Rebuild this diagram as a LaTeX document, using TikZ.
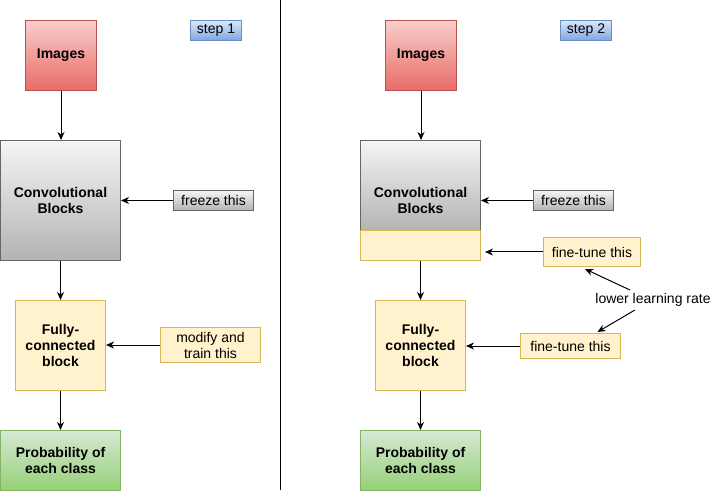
\documentclass[tikz,border=0pt]{standalone}
\usepackage{fontspec}
\setmainfont{Liberation Sans}
\usetikzlibrary{arrows.meta}
\definecolor{redtop}{HTML}{F8CECC}\definecolor{redbot}{HTML}{EA6B66}\definecolor{redline}{HTML}{B85450}
\definecolor{graytop}{HTML}{F5F5F5}\definecolor{graybot}{HTML}{B3B3B3}\definecolor{grayline}{HTML}{666666}
\definecolor{bluetop}{HTML}{DAE8FC}\definecolor{bluebot}{HTML}{7EA6E0}\definecolor{blueline}{HTML}{6C8EBF}
\definecolor{yelfill}{HTML}{FFF2CC}\definecolor{yelline}{HTML}{D6B656}
\definecolor{greentop}{HTML}{D5E8D4}\definecolor{greenbot}{HTML}{97D077}\definecolor{greenline}{HTML}{82B366}
\begin{document}
\begin{tikzpicture}[x=1pt,y=-1pt,line width=1pt,
	box/.style={draw,anchor=north west,inner sep=0pt,align=center,font=\fontsize{14}{16}\selectfont\bfseries},
	tag/.style={draw,anchor=north west,inner sep=0pt,align=center,font=\fontsize{14}{16}\selectfont},
	redbox/.style={draw=redline,top color=redtop,bottom color=redbot},
	graybox/.style={draw=grayline,top color=graytop,bottom color=graybot},
	bluebox/.style={draw=blueline,top color=bluetop,bottom color=bluebot},
	yelbox/.style={draw=yelline,fill=yelfill},
	greenbox/.style={draw=greenline,top color=greentop,bottom color=greenbot},
	arr/.style={-{Stealth[length=8pt,width=7pt,inset=2.5pt]}}]
	\useasboundingbox (0,0) rectangle (716,492);
	
	% step 1
	\node[box,redbox,minimum width=71pt,minimum height=70pt] (img1) at (25,20) {Images};
	\node[tag,bluebox,minimum width=51pt,minimum height=20pt] (st1) at (190,20) {step 1};
	\node[box,graybox,minimum width=120pt,minimum height=120pt] (conv1) at (0,140) {Convolutional\\Blocks};
	\node[tag,graybox,minimum width=80pt,minimum height=20pt] (fz1) at (173,190) {freeze this};
	\node[box,yelbox,minimum width=90pt,minimum height=90pt] (fc1) at (15,300) {Fully-\\connected\\block};
	\node[tag,yelbox,minimum width=100pt,minimum height=35pt] (mod1) at (160,327) {modify and\\train this};
	\node[box,greenbox,minimum width=120pt,minimum height=60pt] (prob1) at (0,430) {Probability of\\each class};
	
	\draw[arr] (img1.south) -- (img1.south |- conv1.north);
	\draw[arr] (conv1.south) -- (conv1.south |- fc1.north);
	\draw[arr] (fc1.south) -- (fc1.south |- prob1.north);
	\draw[arr] (fz1.west) -- (fz1.west -| conv1.east);
	\draw[arr] (mod1.west) -- (mod1.west -| fc1.east);
	
	\draw (280,0) -- (280,490);
	
	% step 2
	\node[box,redbox,minimum width=71pt,minimum height=70pt] (img2) at (385,20) {Images};
	\node[tag,bluebox,minimum width=51pt,minimum height=20pt] (st2) at (560,20) {step 2};
	\node[box,graybox,minimum width=120pt,minimum height=90pt] (conv2) at (360,140) {};
	\node[box,yelbox,minimum width=120pt,minimum height=30pt] (tune2) at (360,230) {};
	\node[align=center,inner sep=0pt,font=\fontsize{14}{16}\selectfont\bfseries] (conv2txt) at ([yshift=-15pt]conv2.center) {Convolutional\\Blocks};
	\node[tag,graybox,minimum width=80pt,minimum height=20pt] (fz2) at (533,190) {freeze this};
	\node[tag,yelbox,minimum width=97pt,minimum height=29pt] (ft1) at (543,237) {fine-tune this};
	\node[box,yelbox,minimum width=90pt,minimum height=90pt] (fc2) at (375,300) {Fully-\\connected\\block};
	\node[tag,yelbox,minimum width=100pt,minimum height=25pt] (ft2) at (520,333) {fine-tune this};
	\node[inner sep=0pt,font=\fontsize{14}{16}\selectfont] (lr) at (653,300) {lower learning rate};
	\node[box,greenbox,minimum width=120pt,minimum height=60pt] (prob2) at (360,430) {Probability of\\each class};
	
	\draw[arr] (img2.south) -- (img2.south |- conv2.north);
	\draw[arr] (tune2.south) -- (tune2.south |- fc2.north);
	\draw[arr] (fc2.south) -- (fc2.south |- prob2.north);
	\draw[arr] (fz2.west) -- (fz2.west -| conv2.east);
	\draw[arr,shorten >=4pt] (ft1.west) -- (ft1.west -| tune2.east);
	\draw[arr] (ft2.west) -- (ft2.west -| fc2.east);
	\draw[arr] (lr.north west) ++(35,-3) -- ([xshift=-7pt,yshift=-2pt]ft1.south);
	\draw[arr] (lr.south west) ++(40,3) -- ([xshift=27pt,yshift=1pt]ft2.north);
\end{tikzpicture}
\end{document}
